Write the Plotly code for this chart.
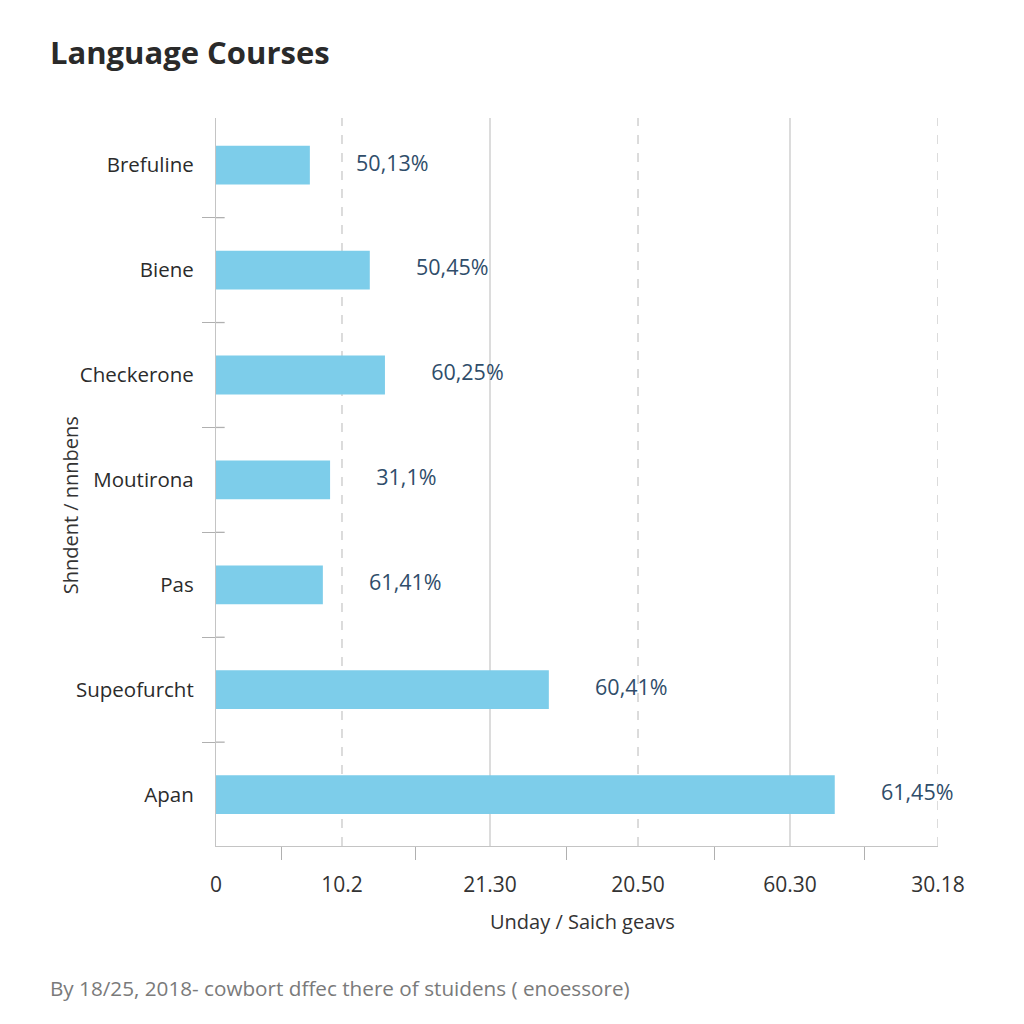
import plotly.graph_objects as go

categories = ["Brefuline", "Biene", "Checkerone", "Moutirona", "Pas", "Supeofurcht", "Apan"]
values = [13.0, 21.3, 23.4, 15.8, 14.8, 46.1, 85.7]
value_labels = ["50,13%", "50,45%", "60,25%", "31,1%", "61,41%", "60,41%", "61,45%"]
tick_vals = [0, 17.45, 37.95, 58.45, 79.5, 100]
tick_text = ["0", "10.2", "21.30", "20.50", "60.30", "30.18"]
grid_dash = ["dash", "solid", "dash", "solid", "dash"]
minor_x = [9.14, 27.7, 48.5, 69.0, 89.75]

FONT = "Open Sans"
idx = list(range(len(categories)))

fig = go.Figure()
fig.add_trace(go.Bar(
    y=idx, x=values, orientation="h", width=0.37,
    marker=dict(color="#7dcdea", line=dict(width=0)),
    hoverinfo="skip", showlegend=False,
))
fig.add_trace(go.Scatter(
    y=idx, x=[v + 6.4 for v in values], mode="text", text=value_labels,
    textposition="middle right",
    textfont=dict(family=FONT, size=21.5, color="#2f4d6a"),
    cliponaxis=False, showlegend=False, hoverinfo="skip",
))

shapes = []
for tv, d in zip(tick_vals[1:], grid_dash):
    shapes.append(dict(type="line", xref="x", yref="paper", x0=tv, x1=tv, y0=0, y1=1,
                       line=dict(color="#c9c9c9", width=1.3, dash=d), layer="below"))
for i in idx[:-1]:
    shapes.append(dict(type="line", xref="x", yref="y", x0=0, x1=1.2, y0=i + 0.5, y1=i + 0.5,
                       line=dict(color="#b0b0b0", width=1.3)))

fig.update_layout(
    width=1024, height=1024,
    margin=dict(l=216, r=86, t=118, b=178),
    paper_bgcolor="white", plot_bgcolor="white",
    font=dict(family=FONT, color="#2b2b2b"),
    shapes=shapes,
    xaxis=dict(
        range=[0, 100], tickvals=tick_vals, ticktext=tick_text, ticks="",
        showgrid=False, zeroline=False, showline=True, linecolor="#c4c4c4", linewidth=1.3,
        tickfont=dict(family=FONT, size=21, color="#333333"),
        ticklabelstandoff=20,
        minor=dict(tickvals=minor_x, ticks="outside", ticklen=13, tickcolor="#b0b0b0", tickwidth=1.3, showgrid=False),
    ),
    yaxis=dict(
        range=[6.49, -0.45], tickvals=idx, ticktext=categories, ticks="",
        showgrid=False, zeroline=False, showline=True, linecolor="#c4c4c4", linewidth=1.3,
        tickfont=dict(family=FONT, size=20.5, color="#2b2b2b"),
        ticklabelstandoff=17,
        minor=dict(tickvals=[i + 0.5 for i in idx[:-1]], ticks="outside", ticklen=13,
                   tickcolor="#b0b0b0", tickwidth=1.3, showgrid=False),
    ),
    annotations=[
        dict(text="<b>Language Courses</b>", xref="paper", yref="paper", x=-0.2327, y=1.0907,
             xanchor="left", yanchor="middle", showarrow=False,
             font=dict(family=FONT, size=31, color="#2a2a2a")),
        dict(text="Shndent / nnnbens", xref="paper", yref="paper", x=-0.2022, y=0.468,
             xanchor="center", yanchor="middle", textangle=-90, showarrow=False,
             font=dict(family=FONT, size=20, color="#333333")),
        dict(text="Unday / Saich geavs", xref="paper", yref="paper", x=0.508, y=-0.104,
             xanchor="center", yanchor="middle", showarrow=False,
             font=dict(family=FONT, size=20, color="#333333")),
        dict(text="By 18/25, 2018- cowbort dffec there of stuidens ( enoessore)", xref="paper", yref="paper",
             x=-0.2327, y=-0.195, xanchor="left", yanchor="middle", showarrow=False,
             font=dict(family=FONT, size=20.7, color="#7a7a7a")),
    ],
)

fig.write_html("out.html")
